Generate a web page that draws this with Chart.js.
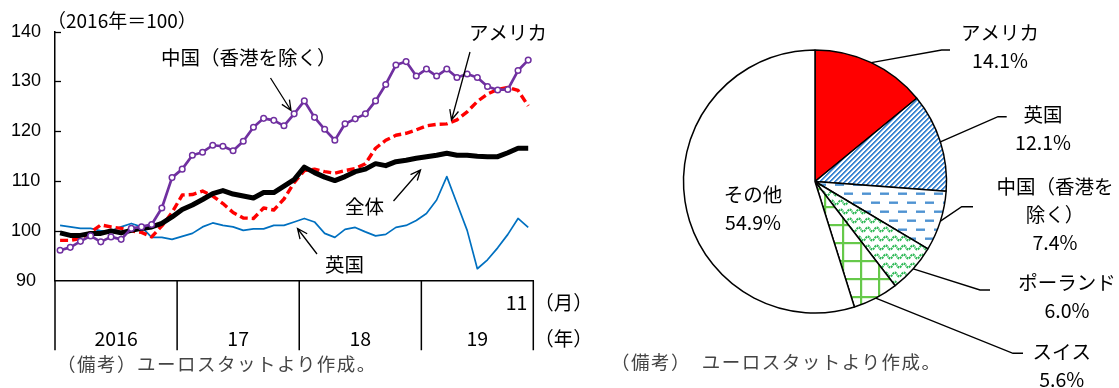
<!DOCTYPE html>
<html>
<head>
<meta charset="utf-8">
<script src="https://cdn.jsdelivr.net/npm/chart.js@4.4.1/dist/chart.umd.min.js"></script>
<style>
  html, body { margin: 0; padding: 0; background: #fff; }
  #wrap { position: relative; width: 1119px; height: 388px; overflow: hidden; font-family: "Noto Sans CJK JP", sans-serif; }
  #lineChart { position: absolute; left: 0; top: 0; }
  #pieChart { position: absolute; left: 600px; top: 0; }
  .note { position: absolute; font-size: 18.5px; color: #444; white-space: nowrap; line-height: 19px; }
</style>
</head>
<body>
<div id="wrap">
  <canvas id="lineChart" width="600" height="388"></canvas>
  <canvas id="pieChart" width="519" height="388"></canvas>
  <div class="note" style="left:57px; top:354px; letter-spacing:1.5px;">（備考）ユーロスタットより作成。</div>
  <div class="note" style="left:611px; top:352px; letter-spacing:1.5px;">（備考）　ユーロスタットより作成。</div>
</div>
<script>
// ---- Monthly import index (2016 = 100), Jan 2016 – Nov 2019 ----
const years = [2016, 2017, 2018, 2019];
const yearTickLabels = ['2016', '17', '18', '19'];
const lastMonth = 11;
const months = [];
for (const y of years) {
  for (let m = 1; m <= 12; m++) {
    if (y === years[years.length - 1] && m > lastMonth) break;
    months.push(y + '-' + String(m).padStart(2, '0'));
  }
}

const chinaExHK = [96.1, 96.7, 97.9, 99.0, 97.8, 98.8, 98.3, 100.5, 100.8, 101.3,
                   104.6, 110.7, 112.4, 115.2, 115.8, 117.2, 117.0, 116.1, 118.0, 120.8,
                   122.6, 122.2, 121.1, 123.5, 126.1, 122.8, 120.4, 118.2, 121.5, 122.5,
                   123.5, 126.1, 129.4, 133.3, 134.0, 131.1, 132.5, 131.1, 132.5, 130.8,
                   131.5, 130.8, 129.0, 128.3, 128.4, 132.2, 134.3];
const overall   = [99.6, 99.1, 99.1, 99.5, 99.5, 100.0, 99.6, 100.1, 100.5, 100.8,
                   101.5, 102.8, 104.3, 105.2, 106.3, 107.5, 108.1, 107.4, 107.0, 106.6,
                   107.7, 107.7, 109.0, 110.3, 112.8, 111.7, 110.8, 110.1, 110.9, 111.9,
                   112.4, 113.5, 113.1, 113.9, 114.2, 114.6, 114.9, 115.2, 115.6, 115.2,
                   115.2, 115.0, 114.9, 114.9, 115.7, 116.6, 116.6];
const usa       = [98.1, 98.1, 98.5, 99.7, 101.2, 100.8, 100.5, 100.0, 99.7, 98.8,
                   101.0, 103.7, 107.2, 107.3, 108.0, 107.0, 105.5, 103.7, 102.6, 102.5,
                   104.6, 104.2, 106.4, 109.7, 112.1, 112.4, 111.9, 111.6, 112.1, 112.5,
                   113.5, 116.6, 118.2, 119.2, 119.6, 120.3, 121.1, 121.4, 121.5, 122.3,
                   123.9, 126.0, 127.5, 128.4, 128.8, 128.2, 125.1];
const uk        = [101.1, 100.8, 100.5, 100.5, 100.0, 100.0, 100.8, 101.5, 100.8, 98.7,
                   98.7, 98.3, 98.9, 99.5, 100.8, 101.6, 101.1, 100.8, 100.1, 100.4,
                   100.4, 101.1, 101.1, 101.8, 102.5, 101.8, 99.5, 98.7, 100.3, 100.7,
                   99.8, 99.0, 99.3, 100.7, 101.1, 102.1, 103.5, 106.2, 110.9, 105.5,
                   100.1, 92.4, 94.2, 96.6, 99.3, 102.5, 100.7];
const yMin = 90, yMax = 140, yStep = 10;

// ---- Import shares by partner ----
const pieLabels = ['アメリカ', '英国', '中国（香港を除く）', 'ポーランド', 'スイス', 'その他'];
const pieLabelLines = [['アメリカ'], ['英国'], ['中国（香港を', '除く）'], ['ポーランド'], ['スイス'], ['その他']];
const pieShares = [14.1, 12.1, 7.4, 6.0, 5.6, 54.9];

const JP = '"Noto Sans CJK JP", "Noto Sans", sans-serif';

function arrow(ctx, x1, y1, x2, y2) {
  const a = Math.atan2(y2 - y1, x2 - x1), h = 11, w = 0.42;
  ctx.beginPath();
  ctx.moveTo(x1, y1); ctx.lineTo(x2, y2);
  ctx.moveTo(x2 - h * Math.cos(a - w), y2 - h * Math.sin(a - w));
  ctx.lineTo(x2, y2);
  ctx.lineTo(x2 - h * Math.cos(a + w), y2 - h * Math.sin(a + w));
  ctx.stroke();
}

// inward ticks on the value axis
const innerTicks = {
  id: 'innerTicks',
  afterDraw(chart) {
    const { ctx, chartArea: a, scales: { y } } = chart;
    ctx.save();
    ctx.strokeStyle = '#000';
    ctx.lineWidth = 1.3;
    for (let v = yMin + yStep; v <= yMax; v += yStep) {
      const py = Math.round(y.getPixelForValue(v)) + 0.5;
      ctx.beginPath(); ctx.moveTo(a.left, py); ctx.lineTo(a.left + 6, py); ctx.stroke();
    }
    ctx.restore();
  }
};

// year band under the time axis
const yearBand = {
  id: 'yearBand',
  afterDraw(chart) {
    const { ctx, chartArea: a, scales: { x } } = chart;
    const bandH = 69.5;
    const bounds = [a.left];
    for (let k = 12; k < months.length; k += 12) {
      bounds.push((x.getPixelForValue(k - 1) + x.getPixelForValue(k)) / 2);
    }
    bounds.push(a.right);
    ctx.save();
    ctx.strokeStyle = '#000';
    ctx.lineWidth = 1.5;
    ctx.beginPath();
    bounds.forEach(b => { ctx.moveTo(b, a.bottom); ctx.lineTo(b, a.bottom + bandH); });
    ctx.stroke();
    ctx.fillStyle = '#000';
    ctx.textBaseline = 'middle';
    ctx.font = '19.5px ' + JP;
    ctx.textAlign = 'center';
    yearTickLabels.forEach((t, i) => ctx.fillText(t, (bounds[i] + bounds[i + 1]) / 2, a.bottom + 57.5));
    const lastLabel = String(Number(months[months.length - 1].slice(5)));
    ctx.textAlign = 'right';
    ctx.fillText(lastLabel, a.right - 6, a.bottom + 22);
    ctx.textAlign = 'left';
    ctx.fillText('（月）', a.right + 1, a.bottom + 22);
    ctx.fillText('（年）', a.right + 1, a.bottom + 57.5);
    ctx.restore();
  }
};

// series names with pointer arrows
const lineNotes = {
  id: 'lineNotes',
  afterDraw(chart) {
    const ctx = chart.ctx;
    ctx.save();
    ctx.fillStyle = '#000';
    ctx.strokeStyle = '#000';
    ctx.lineWidth = 1.3;
    ctx.textBaseline = 'middle';
    ctx.textAlign = 'left';
    ctx.font = '19px ' + JP;
    ctx.fillText('（2016年＝100）', 47, 21);
    ctx.font = '19.5px ' + JP;
    ctx.fillText('中国（香港を除く）', 161, 58);
    ctx.fillText('アメリカ', 469, 33);
    ctx.fillText('全体', 345, 207);
    ctx.fillText('英国', 325, 265);
    arrow(ctx, 270.5, 78, 291, 110.5);
    arrow(ctx, 470, 52, 451.5, 120);
    arrow(ctx, 393.5, 201, 420.5, 170);
    arrow(ctx, 317, 254, 297.5, 228.5);
    ctx.restore();
  }
};

new Chart(document.getElementById('lineChart'), {
  type: 'line',
  data: {
    labels: months,
    datasets: [
      { label: '中国（香港を除く）', data: chinaExHK, borderColor: '#7030A0', borderWidth: 2.7,
        pointRadius: 2.8, pointBorderWidth: 1.5, pointBackgroundColor: '#fff', pointBorderColor: '#7030A0' },
      { label: '全体', data: overall, borderColor: '#000', borderWidth: 5, pointRadius: 0 },
      { label: 'アメリカ', data: usa, borderColor: '#FF0000', borderWidth: 3.4, borderDash: [8, 4], pointRadius: 0 },
      { label: '英国', data: uk, borderColor: '#0070C0', borderWidth: 1.7, pointRadius: 0 }
    ]
  },
  options: {
    responsive: false,
    animation: false,
    events: [],
    layout: { padding: { left: 0, top: 31.7, right: 66.7, bottom: 107.3 } },
    elements: { line: { tension: 0, fill: false, borderJoinStyle: 'round' } },
    plugins: { legend: { display: false }, tooltip: { enabled: false } },
    scales: {
      x: {
        offset: true,
        ticks: { display: false },
        grid: { display: true, drawOnChartArea: false, drawTicks: false, color: 'rgba(0,0,0,0)' },
        border: { display: true, color: '#000', width: 1.5 }
      },
      y: {
        min: yMin, max: yMax,
        ticks: { stepSize: yStep, color: '#000', padding: 14, crossAlign: 'center',
                 font: { family: '"Liberation Sans", Arial, sans-serif', size: 18 } },
        grid: { display: true, drawOnChartArea: false, drawTicks: false, color: 'rgba(0,0,0,0)' },
        border: { display: true, color: '#000', width: 1.5 },
        afterFit(s) { s.width = 55; }
      }
    }
  },
  plugins: [innerTicks, yearBand, lineNotes]
});

// ---- fill patterns for the pie ----
function tile(w, h, draw) {
  const c = document.createElement('canvas');
  c.width = w; c.height = h;
  const g = c.getContext('2d');
  g.fillStyle = '#fff';
  g.fillRect(0, 0, w, h);
  draw(g, w, h);
  return g.createPattern(c, 'repeat');
}
const diagStripes = tile(5, 5, (g, w, h) => {
  const img = g.getImageData(0, 0, w, h);
  for (let yy = 0; yy < h; yy++) for (let xx = 0; xx < w; xx++) {
    const p = (xx + yy) % 5;
    const k = p < 2 ? 1 : (p === 2 ? 0.45 : 0);
    const i = (yy * w + xx) * 4;
    img.data[i] = 255 - k * (255 - 62);
    img.data[i + 1] = 255 - k * (255 - 135);
    img.data[i + 2] = 255 - k * (255 - 210);
  }
  g.putImageData(img, 0, 0);
});
const hDashes = tile(18, 18, (g) => {
  g.fillStyle = '#4F93D2';
  g.fillRect(1, 3.5, 9, 2.4);
  g.fillRect(10, 12.5, 9, 2.4);
  g.fillRect(-8, 12.5, 9, 2.4);
});
const waves = tile(9, 9, (g) => {
  g.strokeStyle = 'rgb(45,185,85)';
  g.lineWidth = 2;
  g.setLineDash([2, 0.8]);
  g.beginPath();
  for (let xx = -1; xx <= 10; xx += 0.5) {
    const yy = 4.5 + 2.1 * Math.sin(xx / 9 * Math.PI * 2);
    if (xx === -1) g.moveTo(xx, yy); else g.lineTo(xx, yy);
  }
  g.stroke();
});
const greenGrid = tile(18, 18, (g) => {
  g.fillStyle = '#66C94A';
  g.fillRect(8, 0, 2.2, 18);
  g.fillRect(0, 8, 18, 2.2);
});
const pieFills = ['#FF0000', diagStripes, hDashes, waves, greenGrid, '#FFFFFF'];

// leader lines: elbow and end points, label anchor (center x, first line y)
const pieLeaders = [
  { elbow: [341.7, 50], end: [350, 50], text: [400, 33] },
  { elbow: [398, 116.7], end: [406.7, 116.7], text: [443, 115] },
  { elbow: [361.7, 206.7], end: [373, 206.7], text: [455, 187] },
  { elbow: [380, 290], end: [390, 290], text: [467, 283] },
  { elbow: [413, 353.3], end: [423, 353.3], text: [461.7, 351.7] },
  { elbow: null, end: null, text: [153, 195] }
];

const pieNotes = {
  id: 'pieNotes',
  afterDraw(chart) {
    const ctx = chart.ctx;
    const arcs = chart.getDatasetMeta(0).data;
    ctx.save();
    ctx.strokeStyle = '#000';
    ctx.fillStyle = '#000';
    ctx.lineWidth = 1.4;
    ctx.font = '19.5px ' + JP;
    ctx.textAlign = 'center';
    ctx.textBaseline = 'middle';
    arcs.forEach((arc, i) => {
      const p = arc.getProps(['x', 'y', 'startAngle', 'endAngle', 'outerRadius'], true);
      const L = pieLeaders[i];
      if (L.elbow) {
        const mid = (p.startAngle + p.endAngle) / 2;
        ctx.beginPath();
        ctx.moveTo(p.x + Math.cos(mid) * p.outerRadius, p.y + Math.sin(mid) * p.outerRadius);
        ctx.lineTo(L.elbow[0], L.elbow[1]);
        ctx.lineTo(L.end[0], L.end[1]);
        ctx.stroke();
      }
      const lines = pieLabelLines[i].concat([pieShares[i].toFixed(1) + '%']);
      lines.forEach((t, j) => ctx.fillText(t, L.text[0], L.text[1] + j * 28));
    });
    ctx.restore();
  }
};

new Chart(document.getElementById('pieChart'), {
  type: 'pie',
  data: {
    labels: pieLabels,
    datasets: [{ data: pieShares, backgroundColor: pieFills, borderColor: '#000', borderWidth: 1.5 }]
  },
  options: {
    responsive: false,
    animation: false,
    events: [],
    layout: { padding: { left: 82.75, top: 49.25, right: 171.75, bottom: 74.25 } },
    plugins: { legend: { display: false }, tooltip: { enabled: false } }
  },
  plugins: [pieNotes]
});
</script>
</body>
</html>
